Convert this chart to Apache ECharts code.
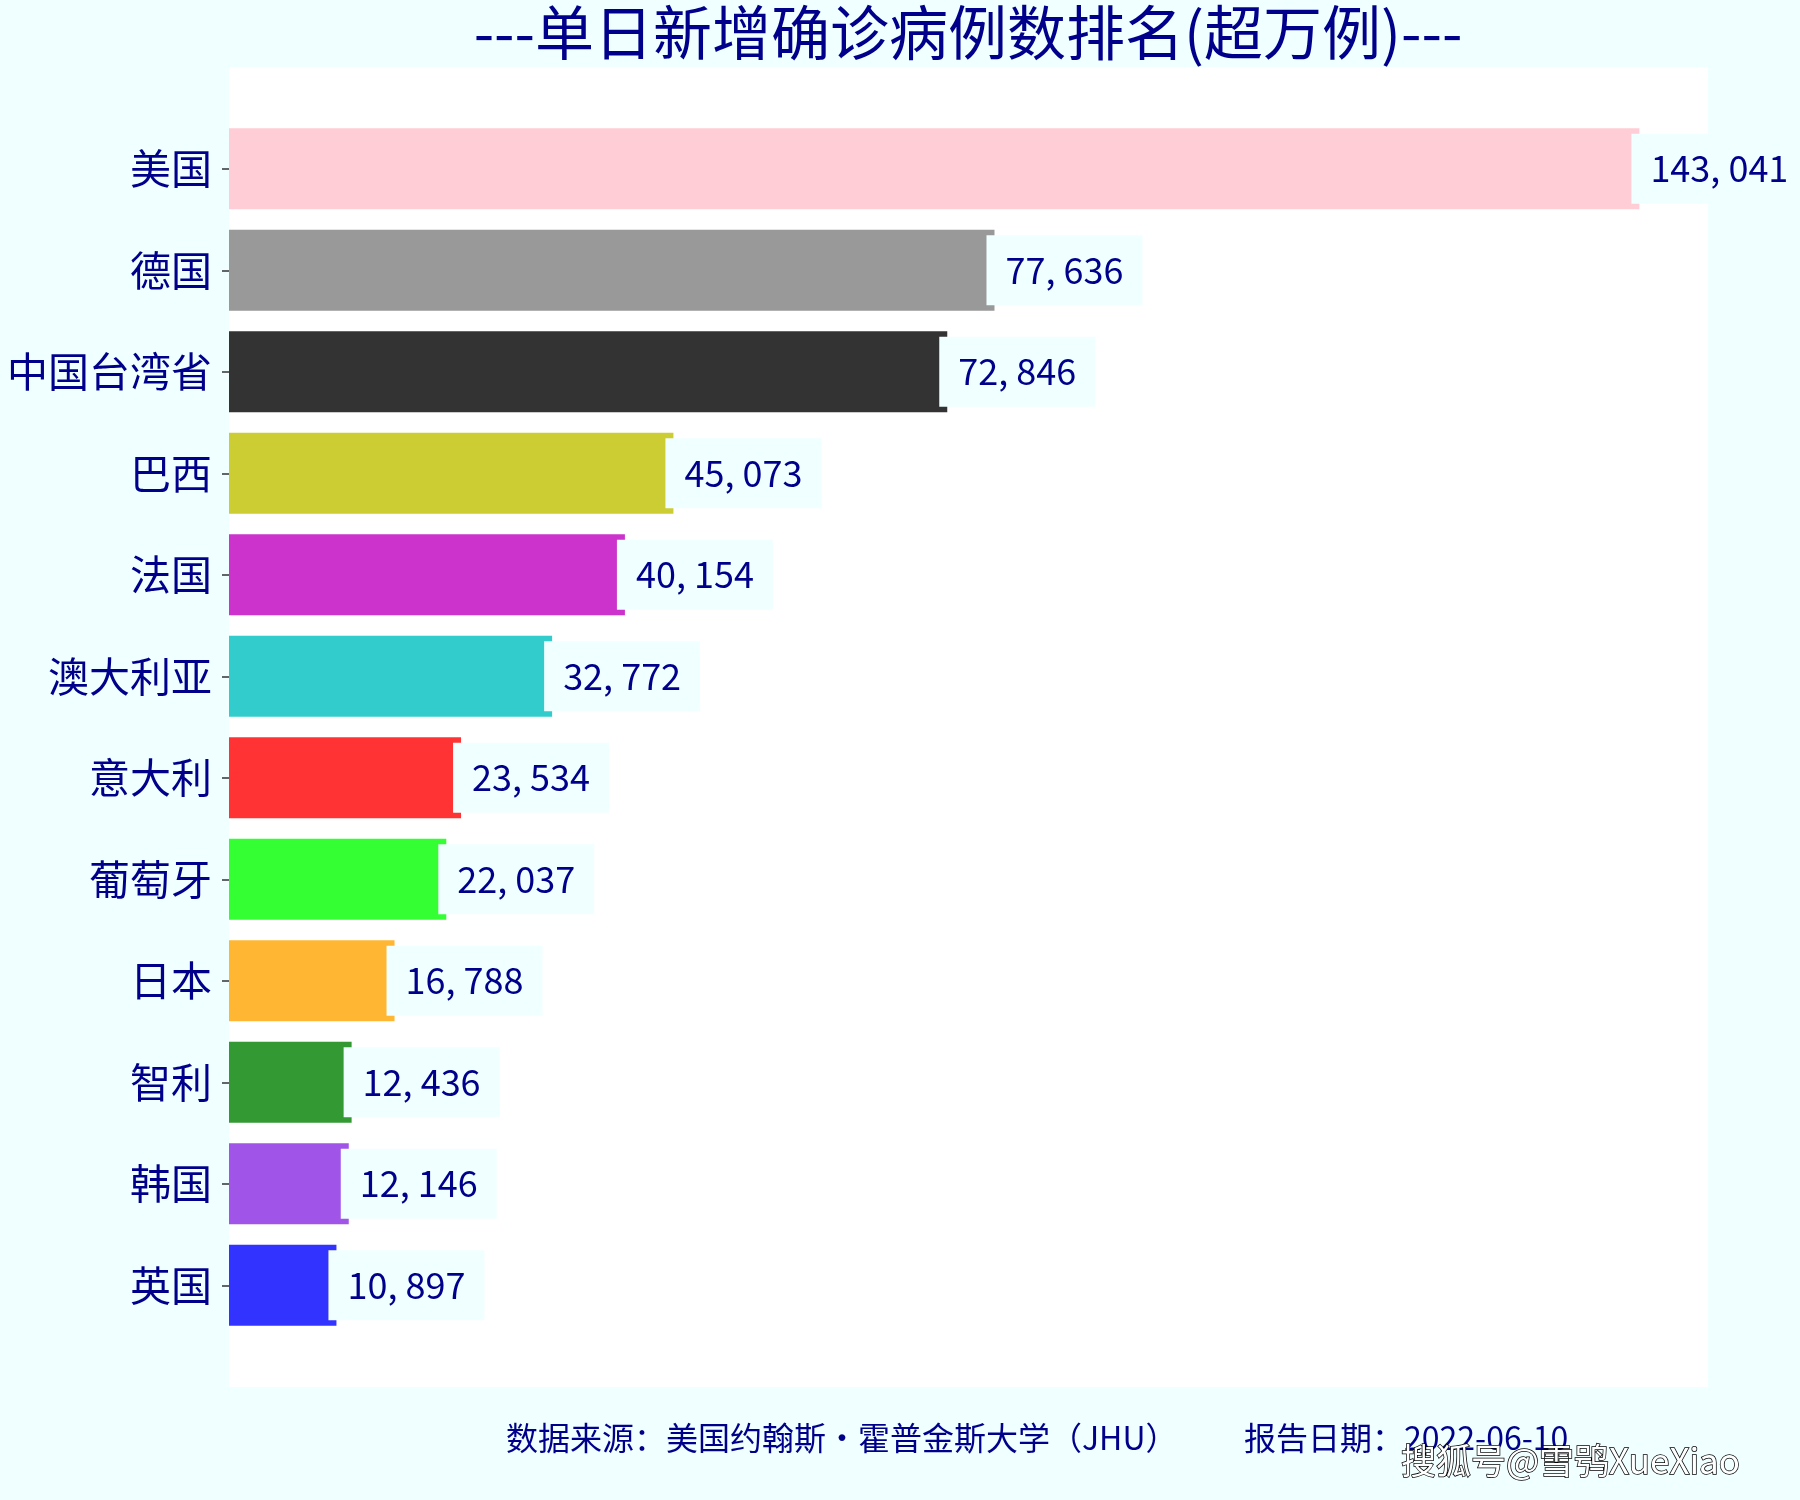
<!DOCTYPE html>
<html>
<head>
<meta charset="utf-8">
<script src="https://cdn.jsdelivr.net/npm/echarts@6/dist/echarts.min.js"></script>
<style>html,body{margin:0;padding:0;background:#F0FFFF;}#c{width:1800px;height:1500px;}</style>
</head>
<body>
<div id="c"></div>
<script>
const categories = ['美国','德国','中国台湾省','巴西','法国','澳大利亚','意大利','葡萄牙','日本','智利','韩国','英国'];
const values = [143041,77636,72846,45073,40154,32772,23534,22037,16788,12436,12146,10897];
const barColors = ['#FFCDD5','#999999','#333333','#CCCC33','#CC33CC','#33CCCC','#FF3333','#33FF33','#FFB733','#339933','#A155E8','#3333FF'];
const titleText = '---单日新增确诊病例数排名(超万例)---';
const sourceText = '数据来源：美国约翰斯·霍普金斯大学（JHU）';
const dateText = '报告日期：2022-06-10';
const watermark = '搜狐号@雪鸮XueXiao';

const FONT = '"Noto Sans CJK SC", sans-serif';
const NAVY = '#00008B';
const chart = echarts.init(document.getElementById('c'), null, {renderer: 'canvas'});
chart.setOption({
  backgroundColor: '#F0FFFF',
  animation: false,
  title: [
    {text: titleText, left: 968, top: 3, padding: 0, textAlign: 'center',
     textStyle: {fontFamily: FONT, fontSize: 59, fontWeight: 'normal', color: NAVY}},
    {text: sourceText, left: 506, top: 1422, padding: 0,
     textStyle: {fontFamily: FONT, fontSize: 32, fontWeight: 'normal', color: NAVY}},
    {text: dateText, left: 1244, top: 1422, padding: 0,
     textStyle: {fontFamily: FONT, fontSize: 32, fontWeight: 'normal', color: NAVY}},
    {text: watermark, left: 1401, top: 1443, padding: 0,
     textStyle: {fontFamily: FONT, fontSize: 35, fontWeight: 'normal', color: '#ffffff',
       textBorderColor: '#000', textBorderWidth: 1.5, textShadowColor: 'rgba(0,0,0,0.8)', textShadowOffsetX: 2, textShadowOffsetY: 2, textShadowBlur: 0}}
  ],
  graphic: [
    {type: 'rect', z: -10, silent: true, shape: {x: 229, y: 67, width: 1479, height: 1320}, style: {fill: '#ffffff'}}
  ],
  grid: {left: 229, right: 92, top: 118, bottom: 164, containLabel: false},
  xAxis: {type: 'value', min: 0, max: 150000, show: false, splitLine: {show: false}},
  yAxis: {
    type: 'category', data: categories, inverse: true,
    axisLine: {show: false},
    axisTick: {show: true, length: 7, alignWithLabel: true, lineStyle: {color: '#333', width: 1.5}},
    axisLabel: {fontFamily: FONT, fontSize: 41, color: NAVY, margin: 17},
    splitLine: {show: false}
  },
  series: [{
    type: 'bar',
    data: values.map((v, i) => ({value: v, itemStyle: {color: barColors[i]}})),
    barCategoryGap: '20%',
    label: {
      show: true, position: 'right', distance: -8,
      formatter: p => p.value.toLocaleString('en-US').replace(',', ', '),
      fontFamily: FONT, fontSize: 36, color: NAVY,
      backgroundColor: '#F0FFFF', padding: [16, 19, 16, 19], lineHeight: 38
    }
  }]
});
</script>
</body>
</html>
